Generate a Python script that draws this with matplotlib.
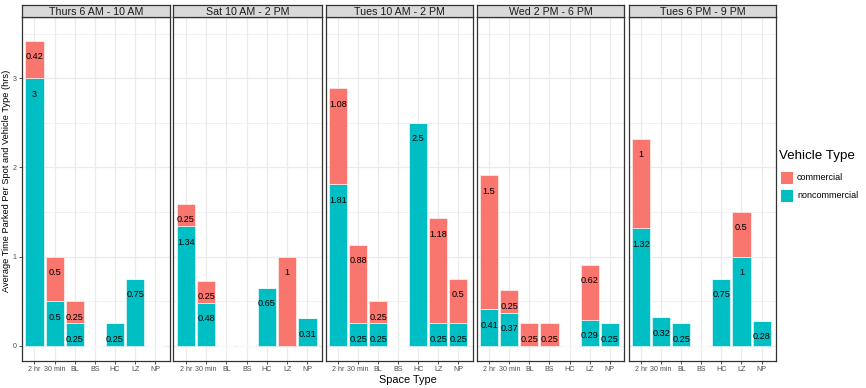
"""Stacked bars of average parking time per spot, by time window"""

import numpy as np
import matplotlib
matplotlib.use('Agg')
import matplotlib.pyplot as plt
from matplotlib.patches import Rectangle

plt.rcParams['font.family'] = ['Liberation Sans', 'DejaVu Sans']

space_types = ['2 hr', '30 min', 'BL', 'BS', 'HC', 'LZ', 'NP']
periods = ['Thurs 6 AM - 10 AM', 'Sat 10 AM - 2 PM', 'Tues 10 AM - 2 PM',
           'Wed 2 PM - 6 PM', 'Tues 6 PM - 9 PM']

# hours per spot, one row per period, one column per space type (0 = no bar)
noncommercial = [
    [3.00, 0.50, 0.25, 0.00, 0.25, 0.75, 0.00],
    [1.34, 0.48, 0.00, 0.00, 0.65, 0.00, 0.31],
    [1.81, 0.25, 0.25, 0.00, 2.50, 0.25, 0.25],
    [0.41, 0.37, 0.00, 0.00, 0.00, 0.29, 0.25],
    [1.32, 0.32, 0.25, 0.00, 0.75, 1.00, 0.28],
]
commercial = [
    [0.42, 0.50, 0.25, 0.00, 0.00, 0.00, 0.00],
    [0.25, 0.25, 0.00, 0.00, 0.00, 1.00, 0.00],
    [1.08, 0.88, 0.25, 0.00, 0.00, 1.18, 0.50],
    [1.50, 0.25, 0.25, 0.25, 0.00, 0.62, 0.00],
    [1.00, 0.00, 0.00, 0.00, 0.00, 0.50, 0.00],
]

col_com = '#F8766D'
col_non = '#00BFC4'

W, H = 866, 388
fig = plt.figure(figsize=(W / 100, H / 100), dpi=100)

# panel edges in pixels
lefts = [22.0, 173.3, 325.7, 476.7, 628.7]
rights = [169.7, 322.0, 472.7, 624.3, 776.0]
p_top, p_bot = 17.3, 360.7
s_top = 4.6

def fmt(v):
    return ('%.2f' % v).rstrip('0').rstrip('.')

x = np.arange(len(space_types))
for k, name in enumerate(periods):
    l, r = lefts[k], rights[k]
    ax = fig.add_axes([l / W, 1 - p_bot / H, (r - l) / W, (p_bot - p_top) / H])
    ax.set_facecolor('white')
    ax.set_xlim(-0.62, 6.72)
    ax.set_ylim(-0.168, 3.684)
    ax.set_yticks([0, 1, 2, 3])
    ax.set_yticks([0.5, 1.5, 2.5, 3.5], minor=True)
    ax.set_xticks(x)
    ax.set_xticklabels(space_types)
    ax.grid(True, which='major', color='#EBEBEB', lw=0.9)
    ax.grid(True, which='minor', axis='y', color='#EBEBEB', lw=0.5)
    ax.set_axisbelow(True)
    for sp in ax.spines.values():
        sp.set_color('#333333')
        sp.set_linewidth(0.9)
    ax.tick_params(axis='both', which='major', length=2.5, width=0.6, color='#333333',
                   labelsize=5.1, labelcolor='#4D4D4D', pad=1.5)
    ax.tick_params(axis='both', which='minor', length=0)
    if k > 0:
        ax.tick_params(axis='y', which='major', left=False, labelleft=False)

    nc = np.array(noncommercial[k])
    cm = np.array(commercial[k])
    ax.bar(x, nc, width=0.9, color=col_non, edgecolor='white', linewidth=0.4)
    ax.bar(x, cm, width=0.9, bottom=nc, color=col_com, edgecolor='white', linewidth=0.4)
    for i in range(len(space_types)):
        if nc[i] > 0:
            ax.annotate(fmt(nc[i]), (x[i], nc[i]), xytext=(0, -11.5), textcoords='offset points',
                        ha='center', va='center', fontsize=6.6, color='black')
        if cm[i] > 0:
            ax.annotate(fmt(cm[i]), (x[i], nc[i] + cm[i]), xytext=(0, -11.5), textcoords='offset points',
                        ha='center', va='center', fontsize=6.6, color='black')

    # facet strip
    sax = fig.add_axes([l / W, 1 - p_top / H, (r - l) / W, (p_top - s_top) / H])
    sax.set_xticks([])
    sax.set_yticks([])
    sax.set_facecolor('#D9D9D9')
    for sp in sax.spines.values():
        sp.set_color('#333333')
        sp.set_linewidth(0.9)
    sax.text(0.5, 0.45, name, transform=sax.transAxes, ha='center', va='center',
             fontsize=7.7, color='#1A1A1A')

fig.text(7 / W, 1 - 181 / H, 'Average Time Parked Per Spot and Vehicle Type (hrs)',
         rotation=90, ha='center', va='center', fontsize=6.7)
fig.text(408 / W, 1 - 380 / H, 'Space Type', ha='center', va='center', fontsize=7.8)

# legend
fig.text(779 / W, 1 - 156 / H, 'Vehicle Type', ha='left', va='center', fontsize=9.6)
for j, (lab, c) in enumerate([('commercial', col_com), ('noncommercial', col_non)]):
    yc = 178 + j * 18
    fig.patches.append(Rectangle((781 / W, 1 - (yc + 6) / H), 12 / W, 12 / H,
                                 transform=fig.transFigure, facecolor=c, edgecolor='none'))
    fig.text(797 / W, 1 - yc / H, lab, ha='left', va='center', fontsize=6.5)

fig.savefig('out.png', dpi=100)
